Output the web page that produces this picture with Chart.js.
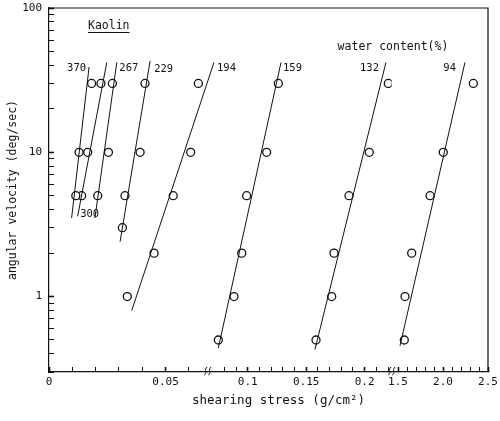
<!DOCTYPE html>
<html lang="en">
<head>
    <meta charset="UTF-8"/>
    <title>Kaolin - angular velocity vs shearing stress</title>
    <script src="https://cdn.jsdelivr.net/npm/chart.js"></script>
    <style>
        html, body {
            margin: 0;
            padding: 0;
            background-color: #fff;
        }
        .chart-box {
            width: 500px;
            height: 421px;
            position: relative;
        }
    </style>
</head>
<body>
<div class="chart-box">
    <canvas id="kaolinChart"></canvas>
</div>

<script>
    // water content (%) of each sample, and the broken x segment it sits on
    const waterContent = ['370', '300', '267', '229', '194', '159', '132', '94'];
    const seriesAxis = ['x1', 'x1', 'x1', 'x1', 'x1', 'x2', 'x2', 'x3'];

    // measured points: shearing stress (g/cm2) / angular velocity (deg/sec)
    const stress370 = [0.0183, 0.0129, 0.0115];
    const omega370  = [30, 10, 5];
    const stress300 = [0.0223, 0.0166, 0.0140];
    const omega300  = [30, 10, 5];
    const stress267 = [0.0272, 0.0255, 0.0209];
    const omega267  = [30, 10, 5];
    const stress229 = [0.0412, 0.0391, 0.0326, 0.0315];
    const omega229  = [30, 10, 5, 3];
    const stress194 = [0.0641, 0.0608, 0.0533, 0.0451, 0.0336];
    const omega194  = [30, 10, 5, 2, 1];
    const stress159 = [0.1262, 0.1162, 0.0991, 0.0949, 0.0883, 0.0749];
    const omega159  = [30, 10, 5, 2, 1, 0.5];
    const stress132 = [0.2202, 0.2039, 0.1866, 0.1738, 0.1718, 0.1584];
    const omega132  = [30, 10, 5, 2, 1, 0.5];
    const stress94  = [2.337, 2.003, 1.856, 1.652, 1.578, 1.570];
    const omega94   = [30, 10, 5, 2, 1, 0.5];

    // fitted straight lines (top end, bottom end)
    const fitStress = [
        [0.0172, 0.0097], [0.0248, 0.0123], [0.0291, 0.0197], [0.0434, 0.0305],
        [0.0708, 0.0355], [0.1285, 0.0749], [0.2182, 0.1575], [2.244, 1.522]
    ];
    const fitOmega = [
        [39, 3.5], [42, 3.6], [42, 3.5], [43, 2.4],
        [42, 0.8], [42, 0.44], [42, 0.43], [42, 0.455]
    ];

    // axis ticks
    const x1Ticks  = [0, 0.01, 0.02, 0.03, 0.04, 0.05, 0.06];
    const x1Labels = ['0', '', '', '', '', '0.05', ''];
    const x2Ticks  = [0.08, 0.09, 0.1, 0.11, 0.12, 0.13, 0.14, 0.15, 0.16, 0.17, 0.18, 0.19, 0.2, 0.21, 0.22];
    const x2Labels = ['', '', '0.1', '', '', '', '', '0.15', '', '', '', '', '0.2', '', ''];
    const x3Ticks  = [1.5, 1.6, 1.7, 1.8, 1.9, 2.0, 2.1, 2.2, 2.3, 2.4, 2.5];
    const x3Labels = ['1.5', '', '', '', '', '2.0', '', '', '', '', '2.5'];
    const yTicks   = [0.3, 0.4, 0.5, 0.6, 0.7, 0.8, 0.9, 1, 2, 3, 4, 5, 6, 7, 8, 9,
                      10, 20, 30, 40, 50, 60, 70, 80, 90, 100];
    const yLabels  = {1: '1', 10: '10', 100: '100'};

    const pointStress = [stress370, stress300, stress267, stress229, stress194, stress159, stress132, stress94];
    const pointOmega  = [omega370, omega300, omega267, omega229, omega194, omega159, omega132, omega94];

    const INK = '#111';
    const MONO = "'DejaVu Sans Mono', monospace";
    Chart.defaults.font.family = MONO;
    Chart.defaults.color = INK;

    const datasets = [];
    waterContent.forEach((w, i) => {
        datasets.push({
            label: w + ' fit',
            showLine: true,
            clip: false, // the 194 line runs a little past its axis piece
            data: fitStress[i].map((x, k) => ({x: x, y: fitOmega[i][k]})),
            xAxisID: seriesAxis[i],
            borderColor: INK,
            borderWidth: 1,
            pointRadius: 0
        });
    });
    waterContent.forEach((w, i) => {
        datasets.push({
            label: w,
            data: pointStress[i].map((x, k) => ({x: x, y: pointOmega[i][k]})),
            xAxisID: seriesAxis[i],
            pointRadius: 4,
            pointBorderWidth: 1.3,
            pointBorderColor: INK,
            pointBackgroundColor: '#fff'
        });
    });

    // one piece of the broken x axis
    function xPiece(min, max, weight, ticks, labels) {
        return {
            type: 'linear',
            position: 'bottom',
            stack: 'stress',
            stackWeight: weight,
            min: min,
            max: max,
            afterBuildTicks: scale => { scale.ticks = ticks.map(v => ({value: v})); },
            afterFit: scale => {
                scale.height = 49;
                // tick padding is big only to undo the inward ticks; keep it out of the layout
                scale.paddingLeft = 0;
                scale.paddingRight = 0;
            },
            grid: {
                drawOnChartArea: false,
                drawTicks: true,
                tickLength: -5,
                tickColor: INK,
                tickWidth: ctx => (labels[ctx.index] ? 1.6 : 1)
            },
            border: {display: true, color: INK, width: 1.2},
            ticks: {
                autoSkip: false,
                maxRotation: 0,
                padding: 9,
                color: INK,
                font: {size: 11},
                callback: (value, index) => labels[index]
            }
        };
    }

    // labels, breaks and the frame
    const sketchPlugin = {
        id: 'sketch',
        afterDraw(chart) {
            const ctx = chart.ctx;
            const area = chart.chartArea;
            const yScale = chart.scales.y;
            ctx.save();
            ctx.strokeStyle = INK;
            ctx.fillStyle = INK;
            ctx.lineWidth = 1.2;

            // top and right edge of the frame
            ctx.beginPath();
            ctx.moveTo(area.left, area.top);
            ctx.lineTo(area.right, area.top);
            ctx.lineTo(area.right, area.bottom);
            ctx.stroke();

            // break marks on the stress axis
            ctx.lineWidth = 1;
            [chart.scales.x1.right, chart.scales.x2.right].forEach(bx => {
                [-2, 2].forEach(dx => {
                    const cx = bx + dx;
                    ctx.beginPath();
                    ctx.moveTo(cx - 1.5, area.bottom + 3);
                    ctx.bezierCurveTo(cx + 2.5, area.bottom + 1, cx - 2.5, area.bottom - 2, cx + 1.5, area.bottom - 5);
                    ctx.stroke();
                });
            });

            // water content labels at the ends of the fitted lines
            const labelPlace = [
                {end: 0, align: 'right', dx: -3, dy: 1.5},
                {end: 1, align: 'left', dx: 2.5, dy: -2},
                {end: 0, align: 'left', dx: 2.5, dy: 6},
                {end: 0, align: 'left', dx: 4, dy: 8},
                {end: 0, align: 'left', dx: 3, dy: 5.5},
                {end: 0, align: 'left', dx: 2, dy: 5.5},
                {end: 0, align: 'right', dx: -7, dy: 5.5},
                {end: 0, align: 'right', dx: -9, dy: 5.5}
            ];
            ctx.font = '10.5px ' + MONO;
            ctx.textBaseline = 'middle';
            waterContent.forEach((w, i) => {
                const p = labelPlace[i];
                const xs = chart.scales[seriesAxis[i]];
                const px = xs.getPixelForValue(fitStress[i][p.end]);
                const py = yScale.getPixelForValue(fitOmega[i][p.end]);
                ctx.textAlign = p.align;
                ctx.fillText(w, px + p.dx, py + p.dy);
            });

            // Kaolin, underlined
            ctx.font = '11.5px ' + MONO;
            ctx.textAlign = 'left';
            const kx = area.left + 39;
            const ky = area.top + 18;
            ctx.fillText('Kaolin', kx, ky);
            const kw = ctx.measureText('Kaolin').width;
            ctx.beginPath();
            ctx.moveTo(kx, ky + 6.5);
            ctx.lineTo(kx + kw, ky + 6.5);
            ctx.stroke();

            // legend heading
            ctx.textAlign = 'center';
            ctx.fillText('water content(%)', area.right - 95, area.top + 39.5);

            // stress axis title
            ctx.font = '12.5px ' + MONO;
            ctx.fillText('shearing stress (g/cm\u00B2)', (area.left + area.right) / 2 + 10, area.bottom + 28.5);
            ctx.restore();
        }
    };

    new Chart(document.getElementById('kaolinChart'), {
        type: 'scatter',
        data: {datasets: datasets},
        options: {
            responsive: true,
            maintainAspectRatio: false,
            animation: false,
            layout: {autoPadding: false, padding: {top: 8, right: 12, bottom: 0, left: 0}},
            scales: {
                x1: xPiece(0, 0.0681, 158.7, x1Ticks, x1Labels),
                x2: xPiece(0.0658, 0.2231, 184, x2Ticks, x2Labels),
                x3: xPiece(1.43, 2.5, 96.3, x3Ticks, x3Labels),
                y: {
                    type: 'logarithmic',
                    position: 'left',
                    min: 0.3,
                    max: 100,
                    afterBuildTicks: scale => { scale.ticks = yTicks.map(v => ({value: v})); },
                    afterFit: scale => {
                        scale.width = 49;
                        scale.paddingTop = 0;
                        scale.paddingBottom = 0;
                    },
                    grid: {
                        drawOnChartArea: false,
                        drawTicks: true,
                        tickLength: -5,
                        tickColor: INK,
                        tickWidth: ctx => (yLabels[ctx.tick.value] ? 1.6 : 1)
                    },
                    border: {display: true, color: INK, width: 1.2},
                    ticks: {
                        autoSkip: false,
                        padding: 12,
                        color: INK,
                        font: {size: 11},
                        callback: value => yLabels[value] || ''
                    },
                    title: {
                        display: true,
                        text: 'angular velocity (deg/sec)',
                        color: INK,
                        font: {size: 11.5},
                        padding: {top: 6, bottom: 0}
                    }
                }
            },
            plugins: {
                legend: {display: false},
                tooltip: {enabled: false}
            }
        },
        plugins: [sketchPlugin]
    });
</script>
</body>
</html>
